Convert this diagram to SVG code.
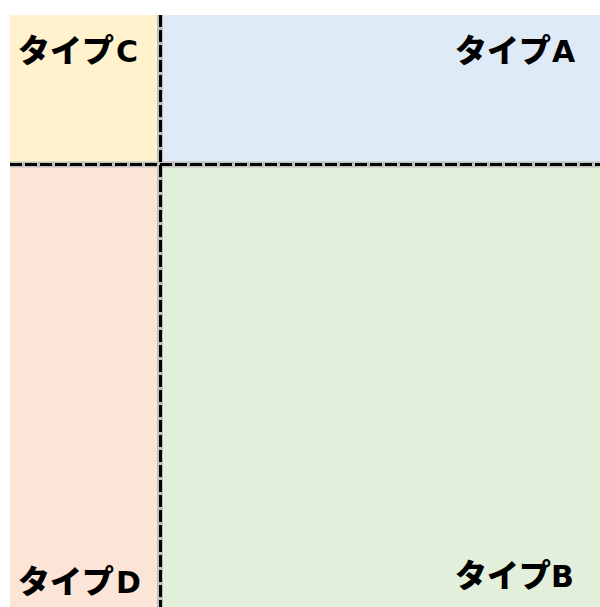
<svg xmlns="http://www.w3.org/2000/svg" width="600" height="607" viewBox="0 0 600 607">
<style>
.lbl{font-family:"Noto Sans CJK JP","Noto Sans",sans-serif;font-weight:900;font-size:32px;fill:#000}
.lat{font-family:"DejaVu Sans","Noto Sans",sans-serif;font-weight:bold;font-size:30px}
.gray{stroke:#bfbfbf;stroke-width:6;fill:none}
.dash{stroke:#000;stroke-width:3;stroke-dasharray:12 3;fill:none}
</style>
<rect width="600" height="607" fill="#fff"/>
<g id="typeC">
<rect x="10" y="15" width="150" height="150" fill="#fff2cc"/>
<text class="lbl" x="18" y="62">タイプ<tspan class="lat" x="116">C</tspan></text>
</g>
<g id="typeA">
<rect x="160" y="15" width="440" height="150" fill="#deebf7"/>
<text class="lbl" x="455" y="62">タイプ<tspan class="lat" x="552">A</tspan></text>
</g>
<g id="typeD">
<rect x="10" y="165" width="150" height="442" fill="#fce4d6"/>
<text class="lbl" x="18" y="593">タイプ<tspan class="lat" x="116">D</tspan></text>
</g>
<g id="typeB">
<rect x="160" y="165" width="440" height="442" fill="#e2efda"/>
<text class="lbl" x="455" y="587">タイプ<tspan class="lat" x="551">B</tspan></text>
</g>
<g id="connectors">
<line class="gray" x1="10" y1="164.5" x2="600" y2="164.5"/>
<line class="gray" x1="160" y1="15" x2="160" y2="607"/>
<line class="dash" x1="10" y1="164.5" x2="600" y2="164.5"/>
<line class="dash" x1="160.5" y1="15" x2="160.5" y2="607"/>
</g>
</svg>
